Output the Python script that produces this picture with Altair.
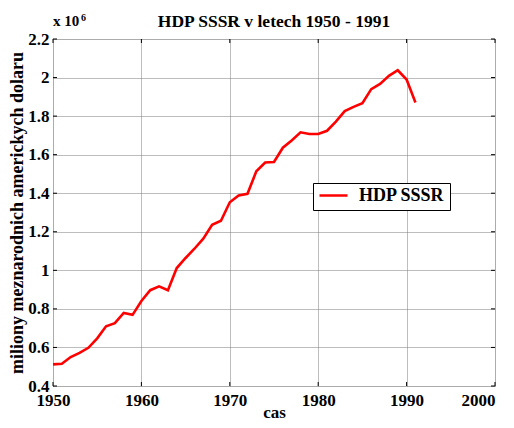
import altair as alt
import pandas as pd

FONT = "Liberation Serif"

years = list(range(1950, 1992))
gdp = [0.512, 0.515, 0.550, 0.572, 0.598, 0.647, 0.710, 0.726, 0.779, 0.769,
       0.841, 0.897, 0.917, 0.897, 1.012, 1.064, 1.112, 1.164, 1.236, 1.257,
       1.353, 1.388, 1.397, 1.514, 1.559, 1.562, 1.636, 1.674, 1.716, 1.707,
       1.707, 1.724, 1.771, 1.826, 1.848, 1.867, 1.940, 1.967, 2.009, 2.038,
       1.990, 1.871]
series_name = "HDP SSSR"
title_text = "HDP SSSR v letech 1950 - 1991"
x_ticks = [1950, 1960, 1970, 1980, 1990, 2000]
y_ticks = [0.4, 0.6, 0.8, 1.0, 1.2, 1.4, 1.6, 1.8, 2.0, 2.2]

W, H = 442, 347
TL = 4

df = pd.DataFrame({"year": years, "gdp": gdp, "series": series_name})
xt = pd.DataFrame({"year": x_ticks})
yt = pd.DataFrame({"gdp": y_ticks})

xscale = alt.Scale(domain=[1950, 2000], nice=False, zero=False)
yscale = alt.Scale(domain=[0.4, 2.2], nice=False, zero=False)

def xaxis():
    return alt.Axis(values=x_ticks, format="d", ticks=False, domain=False,
                    grid=True, gridColor="#7a7a7a", gridDash=[1, 1], gridWidth=1,
                    labelFont=FONT, labelFontWeight="bold", labelFontSize=17,
                    labelColor="black", labelPadding=6, labelFlush=False,
                    labelOverlap=False,
                    labelAlign={"expr": "datum.value == 2000 ? 'right' : 'center'"},
                    title="cas", titleFont=FONT, titleFontWeight="bold",
                    titleFontSize=17, titleColor="black",
                    titleBaseline="alphabetic", titleY=31)

def yaxis():
    return alt.Axis(values=y_ticks, format=".2~f", ticks=False, domain=False,
                    grid=True, gridColor="#7a7a7a", gridDash=[1, 1], gridWidth=1,
                    labelFont=FONT, labelFontWeight="bold", labelFontSize=17,
                    labelColor="black", labelPadding=4, labelFlush=False,
                    labelOverlap=False,
                    title="miliony meznarodnich americkych dolaru", titleFont=FONT,
                    titleFontWeight="bold", titleFontSize=18, titleColor="black",
                    titlePadding=1)

line = alt.Chart(df).mark_line(strokeWidth=2.6).encode(
    x=alt.X("year:Q", scale=xscale, axis=xaxis()),
    y=alt.Y("gdp:Q", scale=yscale, axis=yaxis()),
    color=alt.Color("series:N",
                    scale=alt.Scale(domain=[series_name], range=["#ff0000"]),
                    legend=alt.Legend(orient="none", legendX=260, legendY=144,
                                      title=None, symbolType="stroke",
                                      symbolSize=784, symbolStrokeWidth=2.6,
                                      labelFont=FONT, labelFontWeight="bold",
                                      labelFontSize=18, labelColor="black",
                                      labelOffset=10, strokeColor="black",
                                      labelExpr="datum.label + '   '",
                                      fillColor="white", padding=5,
                                      clipHeight=15)),
)

tick_bottom = alt.Chart(xt).mark_rule(color="black", strokeWidth=1).encode(
    x=alt.X("year:Q", scale=xscale, axis=xaxis()), y=alt.value(H), y2=alt.value(H - TL))
tick_top = alt.Chart(xt).mark_rule(color="black", strokeWidth=1).encode(
    x=alt.X("year:Q", scale=xscale, axis=xaxis()), y=alt.value(0), y2=alt.value(TL))
tick_left = alt.Chart(yt).mark_rule(color="black", strokeWidth=1).encode(
    y=alt.Y("gdp:Q", scale=yscale, axis=yaxis()), x=alt.value(0), x2=alt.value(TL))
tick_right = alt.Chart(yt).mark_rule(color="black", strokeWidth=1).encode(
    y=alt.Y("gdp:Q", scale=yscale, axis=yaxis()), x=alt.value(W), x2=alt.value(W - TL))

mult = pd.DataFrame({"t": ["x 10"]})
expo = pd.DataFrame({"t": ["6"]})
ttl = pd.DataFrame({"t": [title_text]})
mult_text = alt.Chart(mult).mark_text(
    font=FONT, fontWeight="bold", fontSize=15, align="left",
    baseline="alphabetic", color="black").encode(
    text="t:N", x=alt.value(0), y=alt.value(-13))
expo_text = alt.Chart(expo).mark_text(
    font=FONT, fontWeight="bold", fontSize=10, align="left",
    baseline="alphabetic", color="black").encode(
    text="t:N", x=alt.value(28), y=alt.value(-18))
title_mark = alt.Chart(ttl).mark_text(
    font=FONT, fontWeight="bold", fontSize=17.5, align="center",
    baseline="alphabetic", color="black").encode(
    text="t:N", x=alt.value(W / 2), y=alt.value(-12))

chart = alt.layer(line, tick_bottom, tick_top, tick_left, tick_right,
                  mult_text, expo_text, title_mark).properties(
    width=W, height=H,
    autosize=alt.AutoSizeParams(type="none"),
    padding={"left": 45, "top": 31, "right": 10, "bottom": 33},
).configure_view(stroke="black", strokeWidth=1.5).configure(background="white")

chart.save("out.html", embed_options={"renderer": "svg", "actions": False})
